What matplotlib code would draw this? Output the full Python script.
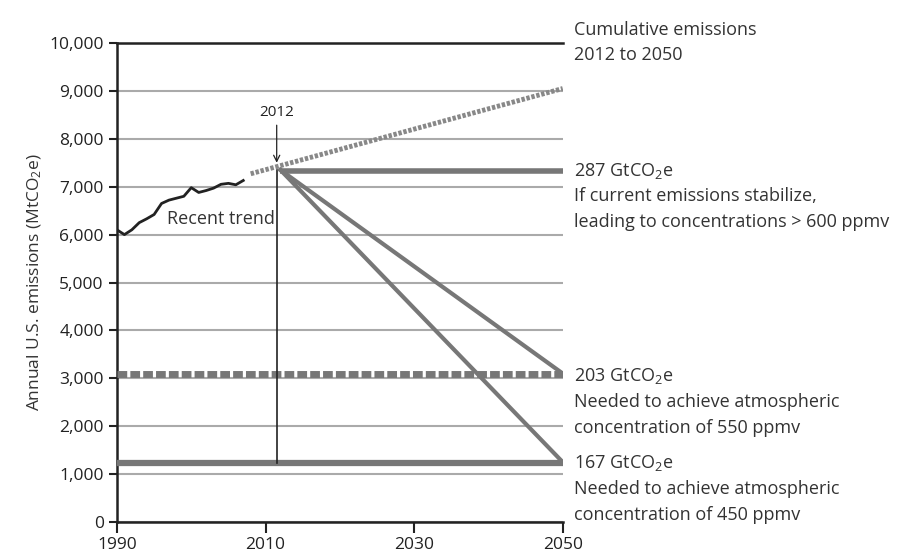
import matplotlib
matplotlib.use('Agg')
import matplotlib.pyplot as plt
import numpy as np

plt.rcParams['font.family'] = ['Open Sans', 'DejaVu Sans']
plt.rcParams['mathtext.default'] = 'regular'

# historic emissions (MtCO2e)
years = [1990, 1991, 1992, 1993, 1994, 1995, 1996, 1997, 1998, 1999,
         2000, 2001, 2002, 2003, 2004, 2005, 2006, 2007]
emis = [6100, 6000, 6100, 6250, 6330, 6420, 6650, 6720, 6760, 6800,
        6980, 6880, 6920, 6970, 7050, 7070, 7040, 7130]

# projected trend (dotted)
trend_x = [2008, 2050]
trend_y = [7270, 9050]

# pathways from 2012
start_year = 2012
start_val = 7350
stab_y = 7330
path550_end = 3100
path450_end = 1250
level550 = 3080
level450 = 1240

gray = '#777777'
txt = '#333333'

fig = plt.figure(figsize=(9.21, 5.57), dpi=100)
ax = fig.add_axes([0.127, 0.0628, 0.484, 0.86])

ax.set_xlim(1990, 2050)
ax.set_ylim(0, 10000)
ax.set_yticks(np.arange(0, 10001, 1000))
ax.set_yticklabels(['{:,}'.format(v) for v in range(0, 10001, 1000)])
ax.set_xticks([1990, 2010, 2030, 2050])
ax.tick_params(axis='both', labelsize=12.5, color='#222222', labelcolor='#222222',
               length=6, width=1.5)
ax.tick_params(axis='x', length=8, pad=3)
ax.grid(axis='y', color='#aaaaaa', lw=1.5)
ax.set_axisbelow(True)
for s in ['left', 'bottom', 'top']:
    ax.spines[s].set_linewidth(1.8)
    ax.spines[s].set_color('#222222')
ax.spines['right'].set_visible(False)

ax.set_ylabel('Annual U.S. emissions (MtCO$_2$e)', fontsize=12.5, color=txt, labelpad=4)

# horizontal target levels
ax.plot([1990, 2050], [level450, level450], color=gray, lw=4.5, solid_capstyle='butt', zorder=3)
ax.plot([1990, 2050], [level550, level550], color=gray, lw=5, dashes=(1.4, 0.45),
        dash_capstyle='butt', zorder=3)

# vertical marker at 2012
ax.plot([2011.6, 2011.6], [level450, start_val], color='#222222', lw=1.2, zorder=4)

# recent trend
ax.plot(years, emis, color='#222222', lw=2, zorder=5)
ax.text(2004, 6330, 'Recent trend', fontsize=13, color=txt, ha='center', va='center',
        zorder=6)

# dotted projection
ax.plot(trend_x, trend_y, color='#888888', lw=3.5, dashes=(0.7, 0.35), zorder=4)

# pathways
ax.plot([start_year, 2050], [stab_y, stab_y], color=gray, lw=4, solid_capstyle='butt', zorder=4)
ax.plot([start_year, 2050], [start_val, path550_end], color=gray, lw=3, zorder=4)
ax.plot([start_year, 2050], [start_val, path450_end], color=gray, lw=3, zorder=4)

ax.annotate('2012', xy=(2011.5, 7500), xytext=(2011.5, 8400), ha='center', va='bottom',
            fontsize=11, color='#222222',
            arrowprops=dict(arrowstyle='->', color='#222222', lw=0.9, shrinkA=2, shrinkB=0))

# right-side labels
tx = 2051.5
lines = [
    (10270, 'Cumulative emissions'),
    (9750, '2012 to 2050'),
    (7330, '287 GtCO$_2$e'),
    (6800, 'If current emissions stabilize,'),
    (6260, 'leading to concentrations > 600 ppmv'),
    (3050, '203 GtCO$_2$e'),
    (2510, 'Needed to achieve atmospheric'),
    (1960, 'concentration of 550 ppmv'),
    (1240, '167 GtCO$_2$e'),
    (690, 'Needed to achieve atmospheric'),
    (150, 'concentration of 450 ppmv'),
]
for y, t in lines:
    ax.text(tx, y, t, fontsize=13, color=txt, ha='left', va='center', clip_on=False)

fig.savefig('out.png', dpi=100)
